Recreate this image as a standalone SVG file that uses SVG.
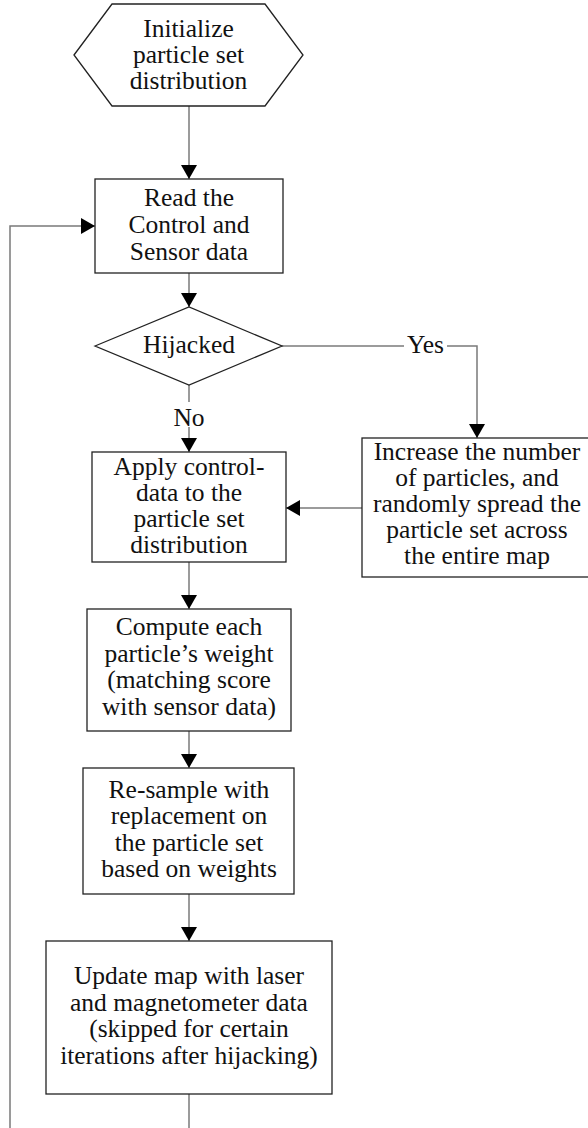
<svg xmlns="http://www.w3.org/2000/svg" width="588" height="1128" viewBox="0 0 588 1128">
<style>
.node{fill:#fff;stroke:#222;stroke-width:1.3}
.conn{fill:none;stroke:#7a7a7a;stroke-width:1.5}
.t{font-family:'Liberation Serif','Times New Roman',Times,'DejaVu Serif',serif;font-size:25.5px;fill:#111;text-anchor:middle}
</style>
<defs>
<marker id="arr" viewBox="0 0 14 16" refX="14" refY="8" markerWidth="14" markerHeight="16" markerUnits="userSpaceOnUse" orient="auto">
<path d="M0,0 L14,8 L0,16 z" fill="#000"/>
</marker>
</defs>
<rect width="588" height="1128" fill="#fff"/>
<g id="connectors">
<path class="conn" d="M189,106 V179" marker-end="url(#arr)"/>
<path class="conn" d="M189,273 V307" marker-end="url(#arr)"/>
<path class="conn" d="M189,385 V402"/>
<path class="conn" d="M189,427 V452" marker-end="url(#arr)"/>
<path class="conn" d="M282,346 H404"/>
<path class="conn" d="M447,346 H477 V438" marker-end="url(#arr)"/>
<path class="conn" d="M362,508 H286" marker-end="url(#arr)"/>
<path class="conn" d="M189,562 V609" marker-end="url(#arr)"/>
<path class="conn" d="M189,731 V768" marker-end="url(#arr)"/>
<path class="conn" d="M189,894 V941" marker-end="url(#arr)"/>
<path class="conn" d="M189,1094 V1130"/>
<path class="conn" d="M10,1130 V226 H95" marker-end="url(#arr)"/>
<text class="t" x="425.5" y="353">Yes</text>
<text class="t" x="189" y="426">No</text>
</g>
<g id="init">
<polygon class="node" points="74,55 112,4 265,4 303,55 265,106 112,106"/>
<text class="t" x="188.5" y="36.5">Initialize</text>
<text class="t" x="188.5" y="62.5">particle set</text>
<text class="t" x="188.5" y="88.5">distribution</text>
</g>
<g id="read">
<rect class="node" x="95" y="179" width="188" height="94"/>
<text class="t" x="189" y="206">Read the</text>
<text class="t" x="189" y="233">Control and</text>
<text class="t" x="189" y="259.5">Sensor data</text>
</g>
<g id="hijacked">
<polygon class="node" points="95,346 189,307 282,346 189,385"/>
<text class="t" x="189" y="353">Hijacked</text>
</g>
<g id="increase">
<rect class="node" x="362" y="438" width="232" height="139"/>
<text class="t" x="477" y="459.5">Increase the number</text>
<text class="t" x="477" y="485.5">of particles, and</text>
<text class="t" x="477" y="511.5">randomly spread the</text>
<text class="t" x="477" y="537.5">particle set across</text>
<text class="t" x="477" y="563.5">the entire map</text>
</g>
<g id="apply">
<rect class="node" x="92" y="452" width="194" height="110"/>
<text class="t" x="189" y="474.5">Apply control-</text>
<text class="t" x="189" y="500.5">data to the</text>
<text class="t" x="189" y="526.5">particle set</text>
<text class="t" x="189" y="552.5">distribution</text>
</g>
<g id="compute">
<rect class="node" x="87" y="609" width="204" height="122"/>
<text class="t" x="189" y="635">Compute each</text>
<text class="t" x="189" y="661.5">particle’s weight</text>
<text class="t" x="189" y="688">(matching score</text>
<text class="t" x="189" y="714.5">with sensor data)</text>
</g>
<g id="resample">
<rect class="node" x="83" y="768" width="211" height="126"/>
<text class="t" x="189" y="797.5">Re-sample with</text>
<text class="t" x="189" y="824">replacement on</text>
<text class="t" x="189" y="850.5">the particle set</text>
<text class="t" x="189" y="877">based on weights</text>
</g>
<g id="update">
<rect class="node" x="46" y="941" width="286" height="153"/>
<text class="t" x="189" y="984">Update map with laser</text>
<text class="t" x="189" y="1010.5">and magnetometer data</text>
<text class="t" x="189" y="1037">(skipped for certain</text>
<text class="t" x="189" y="1064">iterations after hijacking)</text>
</g>
</svg>
